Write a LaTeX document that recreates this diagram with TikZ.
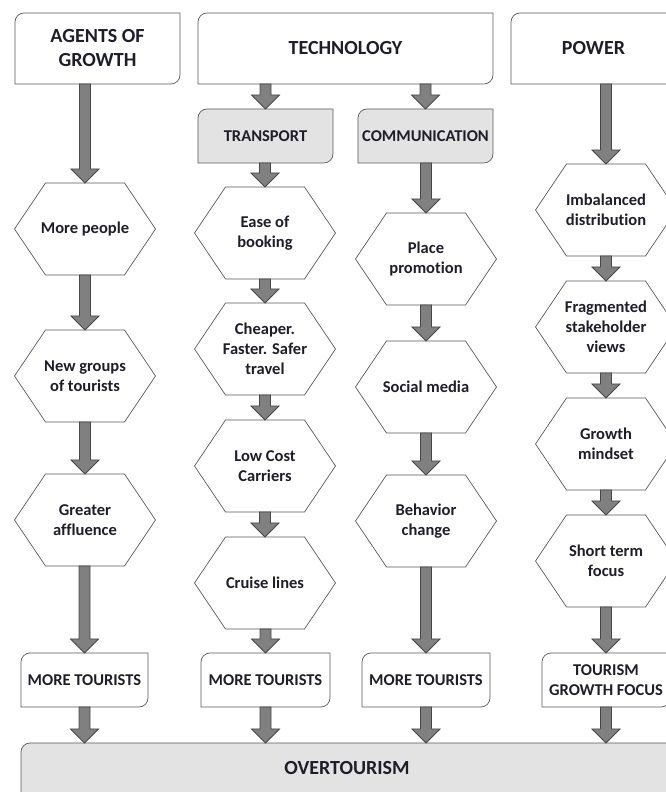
\documentclass[tikz,border=0pt]{standalone}
\usepackage{fontspec}
\setmainfont{Carlito}[RawFeature={-liga}]
\usetikzlibrary{calc, backgrounds}
\definecolor{ink}{HTML}{1E1E2A}
\definecolor{panel}{HTML}{E3E3E3}

\begin{document}
\begin{tikzpicture}[x=1pt, y=1pt,
        base/.style={inner sep=0pt, outer sep=0pt, align=center, text=ink,
            font=\fontsize{16.5}{19.8}\selectfont\bfseries},
        header/.style={base, minimum height=71pt,
            font=\fontsize{20}{24}\selectfont\bfseries},
        tab/.style={base, minimum height=54pt},
        hexa/.style={base, minimum width=141pt, minimum height=92pt},
        boxline/.style={draw=black!65, line width=0.7pt},
        blockarrow/.style={fill=black!50, draw=black!72, line width=0.8pt, line join=miter}
    ]
        \useasboundingbox (0, 0) rectangle (665, 792);

        % headers
        \node[header, minimum width=165pt] (agents) at (97.5, 743.5) {AGENTS OF\\GROWTH};
        \node[header, minimum width=295pt] (tech) at (345.5, 743.5) {TECHNOLOGY};
        \node[header, minimum width=165pt] (power) at (593.5, 743.5) {POWER};
        \node[tab, minimum width=135pt] (transport) at (265.5, 656) {TRANSPORT};
        \node[tab, minimum width=135pt] (comm) at (425.5, 656) {COMMUNICATION};

        % agents of growth
        \node[hexa] (people) at (85, 563) {More people};
        \node[hexa] (groups) at (85, 416) {New groups\\of tourists};
        \node[hexa] (affluence) at (85, 272) {Greater\\affluence};

        % transport
        \node[hexa] (booking) at (265, 559) {Ease of\\booking};
        \node[hexa] (cheaper) at (265, 443) {Cheaper.\\Faster. Safer\\travel};
        \node[hexa] (carriers) at (265, 326) {Low Cost\\Carriers};
        \node[hexa] (cruise) at (265, 209) {Cruise lines};

        % communication
        \node[hexa] (promotion) at (426, 533) {Place\\promotion};
        \node[hexa] (social) at (426, 405) {Social media};
        \node[hexa] (behavior) at (426, 271) {Behavior\\change};

        % power
        \node[hexa] (imbalance) at (606, 582) {Imbalanced\\distribution};
        \node[hexa] (fragmented) at (606, 465) {Fragmented\\stakeholder\\views};
        \node[hexa] (mindset) at (606, 348) {Growth\\mindset};
        \node[hexa] (shortterm) at (606, 231) {Short term\\focus};

        % outcomes
        \node[tab, minimum width=127pt] (more1) at (84.5, 112) {MORE TOURISTS};
        \node[tab, minimum width=129pt] (more2) at (265.5, 112) {MORE TOURISTS};
        \node[tab, minimum width=128pt] (more3) at (426, 112) {MORE TOURISTS};
        \node[tab, minimum width=128pt] (focus) at (606, 112) {TOURISM\\GROWTH FOCUS};
        \node[base, minimum width=652pt, minimum height=50pt,
            font=\fontsize{20}{24}\selectfont\bfseries] (over) at (347, 24) {OVERTOURISM};

        % outlines
        \begin{scope}[on background layer]
            \foreach \n/\c in {agents/white, tech/white, power/white, transport/panel,
                    comm/panel, more1/white, more2/white, more3/white, focus/white, over/panel}
                \draw[boxline, fill=\c] (\n.south west) -- ([yshift=-9pt]\n.north west)
                    arc[start angle=180, end angle=90, radius=9pt] -- (\n.north east)
                    -- ([yshift=9pt]\n.south east)
                    arc[start angle=0, end angle=-90, radius=9pt] -- cycle;
            \foreach \n in {people, groups, affluence, booking, cheaper, carriers, cruise,
                    promotion, social, behavior, imbalance, fragmented, mindset, shortterm}
                \draw[boxline, fill=white] (\n.west) -- ([xshift=31pt]\n.north west)
                    -- ([xshift=-31pt]\n.north east) -- (\n.east)
                    -- ([xshift=-31pt]\n.south east) -- ([xshift=31pt]\n.south west) -- cycle;
        \end{scope}

        % arrows
        \foreach \a/\b in {agents/people, people/groups, groups/affluence, affluence/more1,
                tech/transport, transport/booking, booking/cheaper, cheaper/carriers,
                carriers/cruise, cruise/more2,
                tech/comm, comm/promotion, promotion/social, social/behavior, behavior/more3,
                power/imbalance, imbalance/fragmented, fragmented/mindset,
                mindset/shortterm, shortterm/focus}
            \draw[blockarrow] ($(\b.north |- \a.south)+(-5.5, 0)$) -- ($(\b.north)+(-5.5, 14)$)
                -- ($(\b.north)+(-14, 14)$) -- (\b.north) -- ($(\b.north)+(14, 14)$)
                -- ($(\b.north)+(5.5, 14)$) -- ($(\b.north |- \a.south)+(5.5, 0)$) -- cycle;
        \foreach \a in {more1, more2, more3, focus}
            \draw[blockarrow] ($(\a.south)+(-5.5, 0)$) -- ($(\a.south |- over.north)+(-5.5, 14)$)
                -- ($(\a.south |- over.north)+(-14, 14)$) -- (\a.south |- over.north)
                -- ($(\a.south |- over.north)+(14, 14)$) -- ($(\a.south |- over.north)+(5.5, 14)$)
                -- ($(\a.south)+(5.5, 0)$) -- cycle;
    \end{tikzpicture}
\end{document}
